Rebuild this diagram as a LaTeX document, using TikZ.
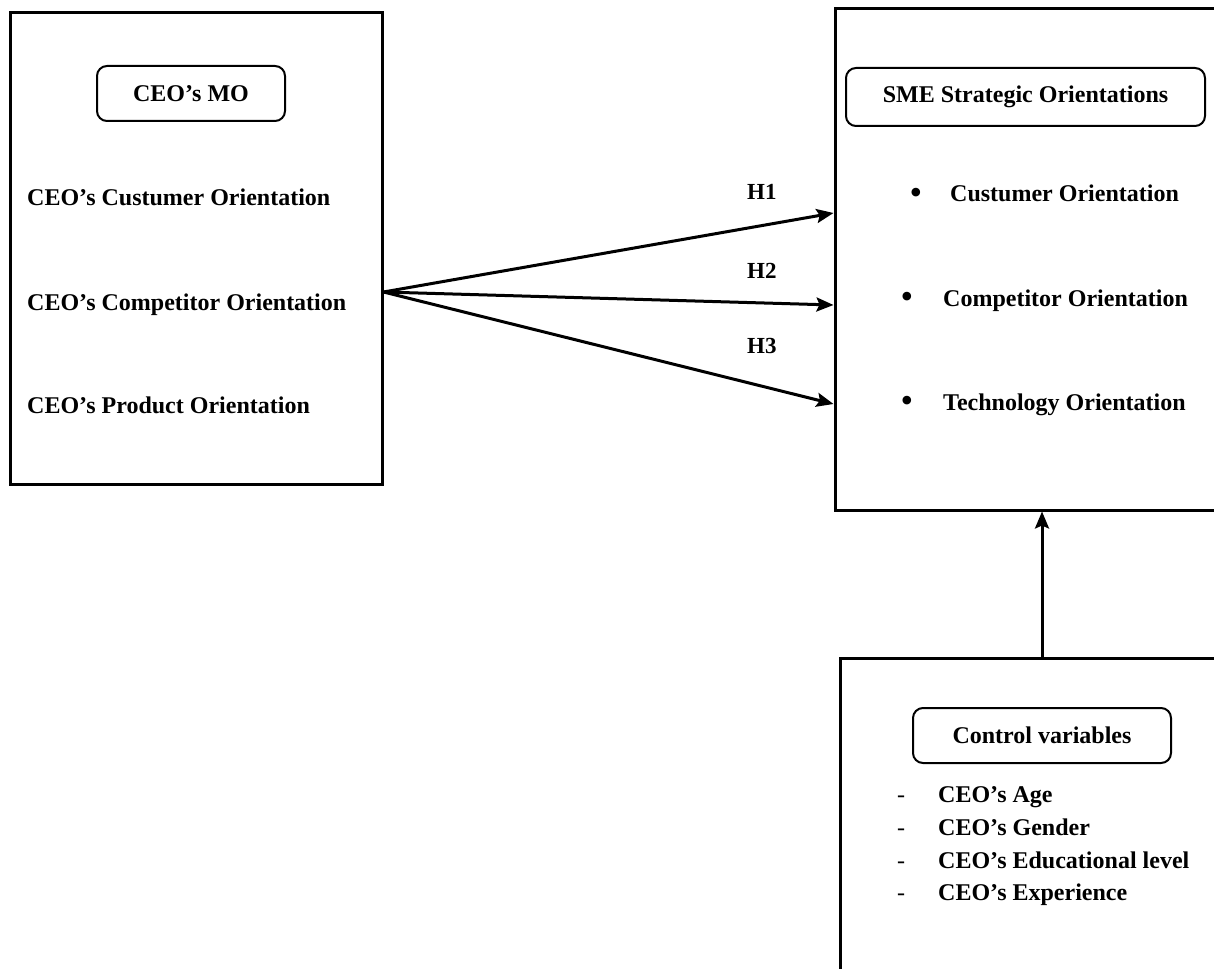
\documentclass[tikz,border=0pt]{standalone}
\usepackage{fontspec}
\setmainfont{Liberation Serif}
\usetikzlibrary{arrows.meta}
\tikzset{
  bigbox/.style={draw, line width=3pt, rectangle, inner sep=0pt},
  titlebox/.style={draw, line width=2pt, rounded corners=10pt, inner sep=0pt,
    font=\fontsize{24}{28}\selectfont\bfseries},
  txt/.style={inner sep=0pt, anchor=base west, font=\fontsize{24}{28}\selectfont\bfseries},
  lbl/.style={inner sep=0pt, anchor=base west, font=\fontsize{23}{28}\selectfont\bfseries},
  dot/.style={inner sep=0pt, anchor=center, font=\fontsize{36}{40}\selectfont},
  dashmark/.style={inner sep=0pt, anchor=base, font=\fontsize{24}{28}\selectfont},
  arr/.style={line width=3pt, -{Stealth[length=17pt,width=14pt,inset=3pt]}}
}
\begin{document}
\begin{tikzpicture}[x=1pt,y=-1pt]
\clip (0,0) rectangle (1214,968);
\path[use as bounding box] (0,0) rectangle (1214,968);

% big boxes
\node[bigbox, minimum width=372pt, minimum height=471pt] (mo) at (196,248.5) {};
\node[bigbox, minimum width=395pt, minimum height=501pt] (sme) at (1032.5,259.5) {};
\node[bigbox, minimum width=400pt, minimum height=332pt] (ctrl) at (1040,824) {};

% titles
\node[titlebox, minimum width=188pt, minimum height=55pt] (motitle) at (191,93.5) {CEO’s MO};
\node[titlebox, minimum width=359pt, minimum height=58pt] (smetitle) at (1025.5,97) {SME Strategic Orientations};
\node[titlebox, minimum width=258pt, minimum height=55pt] (ctrltitle) at (1042,735.5) {Control variables};

% left items
\node[txt] (mo1) at (27,206) {CEO’s Custumer Orientation};
\node[txt] (mo2) at (27,310) {CEO’s Competitor Orientation};
\node[txt] (mo3) at (27,413) {CEO’s Product Orientation};

% right items
\node[dot] (b1) at (916,196) {\textbullet};
\node[txt] (s1) at (950,202) {Custumer Orientation};
\node[dot] (b2) at (907,300) {\textbullet};
\node[txt] (s2) at (943,306) {Competitor Orientation};
\node[dot] (b3) at (907,404) {\textbullet};
\node[txt] (s3) at (943,410) {Technology Orientation};

% control items
\node[dashmark] (d1) at (901,802) {-};
\node[txt] (c1) at (938,802) {CEO’s Age};
\node[dashmark] (d2) at (901,835) {-};
\node[txt] (c2) at (938,835) {CEO’s Gender};
\node[dashmark] (d3) at (901,868) {-};
\node[txt] (c3) at (938,868) {CEO’s Educational level};
\node[dashmark] (d4) at (901,900) {-};
\node[txt] (c4) at (938,900) {CEO’s Experience};

% connectors
\coordinate (src) at (mo.east |- 0,292);
\coordinate (t1) at (sme.west |- 0,213);
\coordinate (t2) at (sme.west |- 0,305);
\coordinate (t3) at (sme.west |- 0,404);
\draw[arr] (src) -- (t1);
\draw[arr] (src) -- (t2);
\draw[arr] (src) -- (t3);
\node[lbl] (h1) at (747,200) {H1};
\node[lbl] (h2) at (747,278) {H2};
\node[lbl] (h3) at (747,353) {H3};

\coordinate (cfrom) at (ctrl.north -| 1042,0);
\coordinate (cto) at (sme.south -| 1042,0);
\draw[arr] (cfrom) -- (cto);
\end{tikzpicture}
\end{document}
